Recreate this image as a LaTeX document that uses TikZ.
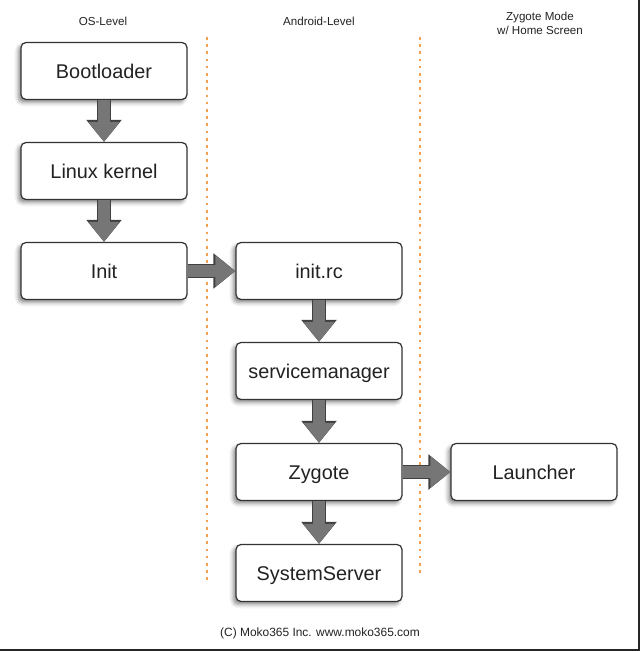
\documentclass[tikz,border=0pt]{standalone}
\usepackage{fontspec}
\setmainfont{Liberation Sans}
\usepackage{xcolor}
\usepackage{tikz}
\usetikzlibrary{arrows.meta,shadows.blur}
\definecolor{laneorange}{RGB}{244,160,80}
\definecolor{arrowgray}{RGB}{118,118,118}
\definecolor{textgray}{RGB}{34,34,34}

\begin{document}
\begin{tikzpicture}[node distance=2cm, auto]
    \tikzstyle{stage} = [rectangle, rounded corners=0.1cm, minimum width=3.32cm, minimum height=1.14cm, text centered, text height=8.3pt, text depth=0.3pt, draw=black!80, line width=0.7pt, fill=white, text=textgray, font=\fontsize{11.3}{13.5}\selectfont, blur shadow={shadow xshift=-1.6pt, shadow yshift=-1.8pt, shadow blur radius=2.2pt, shadow opacity=45}]
    \tikzstyle{flow} = [-{Triangle[width=0.6cm, length=0.4cm]}, line width=0.24cm, draw=arrowgray, preaction={draw=black!75, line width=0.28cm, -{Triangle[width=0.68cm, length=0.44cm]}}]
    \tikzstyle{lane} = [draw=laneorange, line width=1.3pt, dash pattern=on 1.5pt off 2.6pt]
    \tikzstyle{heading} = [text=textgray, align=center, font=\fontsize{6.6}{7.6}\selectfont]

    \useasboundingbox (0,0) rectangle (12.8,-13.02);

    % Column headings
    \node [heading] (oslevel) at (2.06,-0.42) {OS-Level};
    \node [heading] (androidlevel) at (6.38,-0.42) {Android-Level};
    \node [heading] (zygotemode) at (10.8,-0.47) {Zygote Mode\\w/ Home Screen};

    % Lane separators
    \coordinate (laneAtop) at (4.14,-0.74);
    \coordinate (laneAbot) at (4.14,-11.66);
    \coordinate (laneBtop) at (8.4,-0.74);
    \coordinate (laneBbot) at (8.4,-11.46);
    \draw [lane] (laneAtop) -- (laneAbot);
    \draw [lane] (laneBtop) -- (laneBbot);

    % OS level
    \node [stage] (bootloader) at (2.08,-1.42) {Bootloader};
    \node [stage, below of=bootloader] (kernel) {Linux kernel};
    \node [stage, below of=kernel] (init) {Init};

    % Android level
    \node [stage, right of=init, xshift=2.3cm] (initrc) {init.rc};
    \node [stage, below of=initrc] (servicemgr) {servicemanager};
    \node [stage, below of=servicemgr, yshift=-0.02cm] (zygote) {Zygote};
    \node [stage, below of=zygote, yshift=-0.02cm] (sysserver) {SystemServer};

    % Home screen
    \node [stage, right of=zygote, xshift=2.3cm] (launcher) {Launcher};

    % Arrows
    \draw [flow] (bootloader) -- (kernel);
    \draw [flow] (kernel) -- (init);
    \draw [flow] (init) -- (initrc);
    \draw [flow] (initrc) -- (servicemgr);
    \draw [flow] (servicemgr) -- (zygote);
    \draw [flow] (zygote) -- (sysserver);
    \draw [flow] (zygote) -- (launcher);

    % Footer
    \node [heading, font=\fontsize{6.8}{8}\selectfont] (credit) at (6.4,-12.66) {(C) Moko365 Inc. www.moko365.com};

    % Frame edge
    \coordinate (edgeBL) at (0,-13.0);
    \coordinate (edgeBR) at (12.78,-13.0);
    \coordinate (edgeTR) at (12.78,0);
    \draw [black!85, line width=0.6pt] (edgeBL) -- (edgeBR) -- (edgeTR);
\end{tikzpicture}
\end{document}
